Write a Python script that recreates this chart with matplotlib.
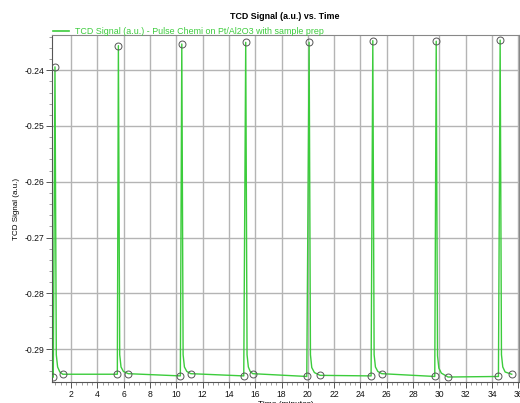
import matplotlib
matplotlib.use("Agg")
import matplotlib.pyplot as plt
from matplotlib.ticker import MultipleLocator, FormatStrFormatter

plt.rcParams["font.family"] = ["Liberation Sans", "DejaVu Sans"]

# Line vertices: for each pulse -> baseline start, peak, tail (3 pts), baseline end
time_min = [
    0.65, 0.78, 0.88, 0.98, 1.15, 1.37,
    5.52, 5.60, 5.70, 5.80, 5.98, 6.35,
    10.31, 10.42, 10.52, 10.62, 10.80, 11.10,
    15.13, 15.28, 15.38, 15.48, 15.62, 15.81,
    19.92, 20.10, 20.20, 20.30, 20.50, 20.93,
    24.81, 24.94, 25.04, 25.14, 25.32, 25.62,
    29.65, 29.76, 29.86, 29.96, 30.15, 30.66,
    34.49, 34.62, 34.72, 34.82, 35.00, 35.50,
]
signal = [
    -0.2950, -0.2394, -0.2910, -0.2932, -0.2941, -0.2945,
    -0.2945, -0.2356, -0.2910, -0.2932, -0.2940, -0.2944,
    -0.2948, -0.2353, -0.2910, -0.2932, -0.2940, -0.2944,
    -0.2948, -0.2350, -0.2910, -0.2932, -0.2940, -0.2944,
    -0.2949, -0.2350, -0.2910, -0.2933, -0.2942, -0.2947,
    -0.2948, -0.2347, -0.2910, -0.2932, -0.2940, -0.2944,
    -0.2949, -0.2348, -0.2912, -0.2934, -0.2943, -0.2950,
    -0.2949, -0.2346, -0.2910, -0.2932, -0.2941, -0.2945,
]
# integration markers: pulse start, peak and pulse end
marker_idx = [i for p in range(0, len(time_min), 6) for i in (p, p + 1, p + 5)]

label = "TCD Signal (a.u.) - Pulse Chemi on Pt/Al2O3 with sample prep"
green = "#3ccc3c"

fig = plt.figure(figsize=(5.2, 4.03), dpi=100)
ax = fig.add_axes([0.0994, 0.052, 0.8986, 0.861])

ax.plot(time_min, signal, color=green, lw=1.0, label=label, zorder=3)
ax.plot([time_min[i] for i in marker_idx], [signal[i] for i in marker_idx],
        ls="none", marker="o", ms=5, mfc="none", mec="#555555", mew=0.7, zorder=4)

ax.set_xlim(0.53, 36.05)
ax.set_ylim(-0.2959, -0.2337)
ax.xaxis.set_major_locator(MultipleLocator(2))
ax.xaxis.set_minor_locator(MultipleLocator(0.4))
ax.yaxis.set_major_locator(MultipleLocator(0.01))
ax.yaxis.set_minor_locator(MultipleLocator(0.002))
ax.yaxis.set_major_formatter(FormatStrFormatter("%.2f"))
ax.grid(True, which="major", color="#b4b4b4", lw=1.0)
ax.set_axisbelow(True)

ax.tick_params(which="major", direction="out", length=4, width=0.7,
               colors="#555555", labelsize=6.2, labelcolor="#111111", pad=1.5)
ax.tick_params(which="minor", direction="out", length=2, width=0.5, colors="#777777")
for s in ax.spines.values():
    s.set_color("#888888")
    s.set_linewidth(0.8)
ax.spines["left"].set_color("#555555")
ax.spines["bottom"].set_color("#555555")

ax.set_xlabel("Time (minutes)", fontsize=6, labelpad=2)
ax.set_ylabel("TCD Signal (a.u.)", fontsize=5.8, labelpad=3)
fig.suptitle("TCD Signal (a.u.) vs. Time", x=0.548, y=0.97, fontsize=6.4,
             fontweight="bold")

leg = ax.legend(loc="lower left", bbox_to_anchor=(0.0, 0.995), borderaxespad=0,
                frameon=False, fontsize=6.4, handlelength=1.9, handletextpad=0.6,
                labelcolor=green, borderpad=0.1)
leg.get_lines()[0].set_linewidth(1.2)

fig.savefig("out.png", dpi=100)
